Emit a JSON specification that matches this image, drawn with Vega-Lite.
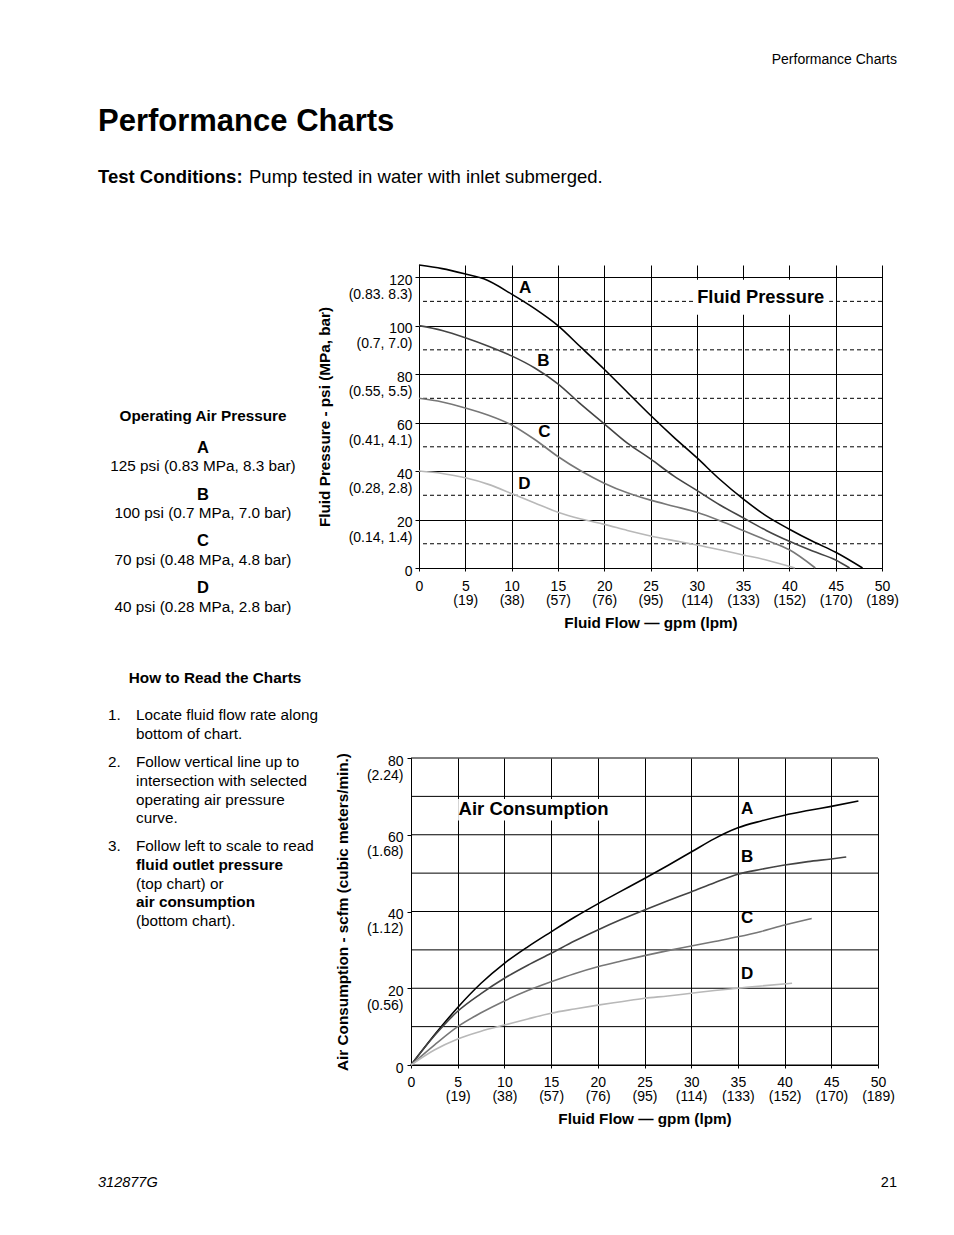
{
  "$schema": "https://vega.github.io/schema/vega-lite/v6.json",
  "background": "white",
  "padding": 0,
  "columns": 2,
  "spacing": {"row": 0, "column": 13},
  "align": "each",
  "bounds": "flush",
  "config": {
    "view": {"stroke": null},
    "font": "Liberation Sans",
    "text": {"font": "Liberation Sans", "color": "black"},
    "axis": {
      "labelFont": "Liberation Sans", "labelFontSize": 14, "labelColor": "black",
      "titleFont": "Liberation Sans", "titleFontSize": 15.3, "titleFontWeight": "bold", "titleColor": "black",
      "domainColor": "black", "domainWidth": 1, "tickColor": "black", "tickWidth": 1,
      "gridColor": "black", "gridOpacity": 1, "gridWidth": 1
    }
  },
  "concat": [
    {
      "width": 406, "height": 265,
      "data": {"values": [
        {"line": 0, "col": "right", "kind": "running", "text": "Performance Charts"},
        {"line": 1, "col": "left", "kind": "title", "text": "Performance Charts"},
        {"line": 2, "col": "left", "kind": "lead", "text": "Test Conditions:"},
        {"line": 2, "col": "left", "kind": "body", "text": "Pump tested in water with inlet submerged."}
      ]},
      "encoding": {
        "x": {"field": "col", "type": "nominal", "scale": {"type": "point", "domain": ["left", "right"], "range": [98, 897], "padding": 0}, "axis": null},
        "y": {"field": "line", "type": "quantitative", "scale": {"domain": [0, 1, 2], "range": [60, 122, 177], "nice": false, "zero": false}, "axis": null},
        "text": {"field": "text"}
      },
      "layer": [
        {"transform": [{"filter": "datum.kind == 'running'"}], "mark": {"type": "text", "align": "right", "baseline": "middle", "fontSize": 14}},
        {"transform": [{"filter": "datum.kind == 'title'"}], "mark": {"type": "text", "align": "left", "baseline": "middle", "fontSize": 31, "fontWeight": "bold"}},
        {"transform": [{"filter": "datum.kind == 'lead'"}], "mark": {"type": "text", "align": "left", "baseline": "middle", "fontSize": 18.5, "fontWeight": "bold"}},
        {"transform": [{"filter": "datum.kind == 'body'"}], "mark": {"type": "text", "align": "left", "baseline": "middle", "fontSize": 18.5, "dx": 151}}
      ]
    },
    {
      "width": 10, "height": 265,
      "data": {"values": []},
      "mark": {"type": "text"},
      "encoding": {}
    },
    {
      "width": 406, "height": 303,
      "data": {"values": [
        {"line": 0, "kind": "heading", "text": "Operating Air Pressure"},
        {"line": 1.7, "kind": "letter", "text": "A"},
        {"line": 2.7, "kind": "body", "text": "125 psi (0.83 MPa, 8.3 bar)"},
        {"line": 4.2, "kind": "letter", "text": "B"},
        {"line": 5.2, "kind": "body", "text": "100 psi (0.7 MPa, 7.0 bar)"},
        {"line": 6.7, "kind": "letter", "text": "C"},
        {"line": 7.7, "kind": "body", "text": "70 psi (0.48 MPa, 4.8 bar)"},
        {"line": 9.2, "kind": "letter", "text": "D"},
        {"line": 10.2, "kind": "body", "text": "40 psi (0.28 MPa, 2.8 bar)"}
      ]},
      "encoding": {
        "y": {"field": "line", "type": "quantitative", "scale": {"domain": [0, 10], "range": [151, 338], "nice": false, "zero": false}, "axis": null},
        "text": {"field": "text"}
      },
      "layer": [
        {"transform": [{"filter": "datum.kind == 'heading'"}], "mark": {"type": "text", "align": "center", "baseline": "middle", "fontSize": 15.3, "fontWeight": "bold"}},
        {"transform": [{"filter": "datum.kind == 'letter'"}], "mark": {"type": "text", "align": "center", "baseline": "middle", "fontSize": 16.5, "fontWeight": "bold"}},
        {"transform": [{"filter": "datum.kind == 'body'"}], "mark": {"type": "text", "align": "center", "baseline": "middle", "fontSize": 15.3}}
      ]
    },
    {
      "width": 463, "height": 303,
      "layer": [
        {
          "data": {"values": [{"psi": 10}, {"psi": 30}, {"psi": 50}, {"psi": 70}, {"psi": 90}, {"psi": 110}]},
          "mark": {"type": "rule", "color": "black", "strokeWidth": 1, "strokeDash": [4, 3]},
          "encoding": {
            "y": {"field": "psi", "type": "quantitative", "scale": {"domain": [0, 125], "nice": false}}
          }
        },
        {
          "data": {"values": [{"label": "Fluid Pressure", "flow": 36.9, "psi": 111.3, "left": 29.85, "right": 44.3, "bottom": 104.5, "top": 118.9}]},
          "layer": [
            {
              "mark": {"type": "rect", "fill": "white"},
              "encoding": {
                "x": {"field": "left", "type": "quantitative", "scale": {"domain": [0, 50], "nice": false}},
                "x2": {"field": "right"},
                "y": {"field": "bottom", "type": "quantitative", "scale": {"domain": [0, 125], "nice": false}},
                "y2": {"field": "top"}
              }
            },
            {
              "mark": {"type": "text", "align": "center", "baseline": "middle", "fontSize": 18.3, "fontWeight": "bold"},
              "encoding": {
                "x": {"field": "flow", "type": "quantitative", "scale": {"domain": [0, 50], "nice": false}},
                "y": {"field": "psi", "type": "quantitative", "scale": {"domain": [0, 125], "nice": false}},
                "text": {"field": "label"}
              }
            }
          ]
        },
        {
          "data": {"values": [
            {"curve": "A", "flow": 0, "psi": 125}, {"curve": "A", "flow": 2.5, "psi": 123.5}, {"curve": "A", "flow": 5, "psi": 121.3},
            {"curve": "A", "flow": 7, "psi": 119.3}, {"curve": "A", "flow": 10, "psi": 113}, {"curve": "A", "flow": 12.5, "psi": 107},
            {"curve": "A", "flow": 15, "psi": 100}, {"curve": "A", "flow": 17.5, "psi": 91}, {"curve": "A", "flow": 20, "psi": 82},
            {"curve": "A", "flow": 22.5, "psi": 72.5}, {"curve": "A", "flow": 25, "psi": 63}, {"curve": "A", "flow": 27.5, "psi": 54},
            {"curve": "A", "flow": 30, "psi": 45.5}, {"curve": "A", "flow": 32.5, "psi": 36.5}, {"curve": "A", "flow": 35, "psi": 28.5},
            {"curve": "A", "flow": 37.5, "psi": 21.5}, {"curve": "A", "flow": 40, "psi": 16}, {"curve": "A", "flow": 42.5, "psi": 11},
            {"curve": "A", "flow": 45, "psi": 6.5}, {"curve": "A", "flow": 47.9, "psi": 0},
            {"curve": "B", "flow": 0, "psi": 100}, {"curve": "B", "flow": 2.5, "psi": 98}, {"curve": "B", "flow": 5, "psi": 95},
            {"curve": "B", "flow": 7.5, "psi": 91.5}, {"curve": "B", "flow": 10, "psi": 87.5}, {"curve": "B", "flow": 12.5, "psi": 82.5},
            {"curve": "B", "flow": 15, "psi": 76}, {"curve": "B", "flow": 17.5, "psi": 67.5}, {"curve": "B", "flow": 20, "psi": 59.5},
            {"curve": "B", "flow": 22.5, "psi": 51.5}, {"curve": "B", "flow": 25, "psi": 45}, {"curve": "B", "flow": 27.5, "psi": 38},
            {"curve": "B", "flow": 30, "psi": 32}, {"curve": "B", "flow": 32.5, "psi": 26}, {"curve": "B", "flow": 35, "psi": 20.7},
            {"curve": "B", "flow": 37.5, "psi": 15.5}, {"curve": "B", "flow": 40, "psi": 11}, {"curve": "B", "flow": 42.5, "psi": 7},
            {"curve": "B", "flow": 45, "psi": 3.3}, {"curve": "B", "flow": 46.5, "psi": 0},
            {"curve": "C", "flow": 0, "psi": 70}, {"curve": "C", "flow": 2.5, "psi": 68.5}, {"curve": "C", "flow": 5, "psi": 66},
            {"curve": "C", "flow": 7.5, "psi": 63}, {"curve": "C", "flow": 10, "psi": 59}, {"curve": "C", "flow": 12.5, "psi": 53},
            {"curve": "C", "flow": 15, "psi": 46}, {"curve": "C", "flow": 17.5, "psi": 40}, {"curve": "C", "flow": 20, "psi": 35},
            {"curve": "C", "flow": 22.5, "psi": 31}, {"curve": "C", "flow": 25, "psi": 28}, {"curve": "C", "flow": 27.5, "psi": 25.5},
            {"curve": "C", "flow": 30, "psi": 23}, {"curve": "C", "flow": 32.5, "psi": 19.5}, {"curve": "C", "flow": 35, "psi": 15.5},
            {"curve": "C", "flow": 37.5, "psi": 11.5}, {"curve": "C", "flow": 40, "psi": 7.5}, {"curve": "C", "flow": 42.8, "psi": 0},
            {"curve": "D", "flow": 0, "psi": 40}, {"curve": "D", "flow": 2.5, "psi": 39}, {"curve": "D", "flow": 5, "psi": 37.2},
            {"curve": "D", "flow": 7.5, "psi": 34.5}, {"curve": "D", "flow": 10, "psi": 30.7}, {"curve": "D", "flow": 12.5, "psi": 26.8},
            {"curve": "D", "flow": 15, "psi": 23}, {"curve": "D", "flow": 17.5, "psi": 20.2}, {"curve": "D", "flow": 20, "psi": 18},
            {"curve": "D", "flow": 22.5, "psi": 15.5}, {"curve": "D", "flow": 25, "psi": 13.2}, {"curve": "D", "flow": 27.5, "psi": 11.3},
            {"curve": "D", "flow": 30, "psi": 9.5}, {"curve": "D", "flow": 32.5, "psi": 7.5}, {"curve": "D", "flow": 35, "psi": 5.4},
            {"curve": "D", "flow": 37.5, "psi": 3.3}, {"curve": "D", "flow": 40.6, "psi": 0}
          ]},
          "mark": {"type": "line", "interpolate": "monotone", "strokeWidth": 1.6},
          "encoding": {
            "x": {
              "field": "flow", "type": "quantitative", "scale": {"domain": [0, 50], "nice": false},
              "axis": {
                "values": [0, 5, 10, 15, 20, 25, 30, 35, 40, 45, 50],
                "title": "Fluid Flow — gpm (lpm)", "grid": true, "tickSize": 3,
                "labelPadding": 8, "labelLineHeight": 14, "labelFlush": false, "labelOverlap": false,
                "labelExpr": "datum.value == 0 ? '0' : [datum.label, ['', '(19)', '(38)', '(57)', '(76)', '(95)', '(114)', '(133)', '(152)', '(170)', '(189)'][datum.value / 5]]",
                "titleY": 54, "titleBaseline": "middle"
              }
            },
            "y": {
              "field": "psi", "type": "quantitative", "scale": {"domain": [0, 125], "nice": false},
              "axis": {
                "values": [0, 20, 40, 60, 80, 100, 120],
                "title": "Fluid Pressure - psi (MPa, bar)", "grid": true, "tickSize": 4,
                "labelPadding": 3, "labelBaseline": "top", "labelOffset": -4, "labelFontSize": 14, "labelLineHeight": 14.5, "labelOverlap": false,
                "labelExpr": "datum.value == 0 ? '0' : [datum.label, ['', '(0.14, 1.4)', '(0.28, 2.8)', '(0.41, 4.1)', '(0.55, 5.5)', '(0.7, 7.0)', '(0.83. 8.3)'][datum.value / 20]]",
                "titleX": -95, "titleBaseline": "middle"
              }
            },
            "color": {"field": "curve", "type": "nominal", "scale": {"domain": ["A", "B", "C", "D"], "range": ["#000000", "#444444", "#777777", "#b8b8b8"]}, "legend": null}
          }
        },
        {
          "data": {"values": [
            {"curve": "A", "flow": 11.45, "psi": 115.7},
            {"curve": "B", "flow": 13.42, "psi": 85.5},
            {"curve": "C", "flow": 13.53, "psi": 56.3},
            {"curve": "D", "flow": 11.37, "psi": 34.6}
          ]},
          "mark": {"type": "text", "align": "center", "baseline": "middle", "fontSize": 17, "fontWeight": "bold"},
          "encoding": {
            "x": {"field": "flow", "type": "quantitative", "scale": {"domain": [0, 50], "nice": false}},
            "y": {"field": "psi", "type": "quantitative", "scale": {"domain": [0, 125], "nice": false}},
            "text": {"field": "curve"}
          }
        }
      ]
    },
    {
      "width": 406, "height": 190,
      "data": {"values": []},
      "mark": {"type": "text"},
      "encoding": {}
    },
    {
      "width": 10, "height": 190,
      "data": {"values": []},
      "mark": {"type": "text"},
      "encoding": {}
    },
    {
      "width": 406, "height": 407,
      "data": {"values": [
        {"line": 0, "kind": "heading", "text": "How to Read the Charts"},
        {"line": 2, "kind": "num", "col": "num", "text": "1."},
        {"line": 2, "kind": "body", "col": "text", "text": "Locate fluid flow rate along"},
        {"line": 3, "kind": "body", "col": "text", "text": "bottom of chart."},
        {"line": 4.5, "kind": "num", "col": "num", "text": "2."},
        {"line": 4.5, "kind": "body", "col": "text", "text": "Follow vertical line up to"},
        {"line": 5.5, "kind": "body", "col": "text", "text": "intersection with selected"},
        {"line": 6.5, "kind": "body", "col": "text", "text": "operating air pressure"},
        {"line": 7.5, "kind": "body", "col": "text", "text": "curve."},
        {"line": 9, "kind": "num", "col": "num", "text": "3."},
        {"line": 9, "kind": "body", "col": "text", "text": "Follow left to scale to read"},
        {"line": 10, "kind": "strong", "col": "text", "text": "fluid outlet pressure"},
        {"line": 11, "kind": "body", "col": "text", "text": "(top chart) or"},
        {"line": 12, "kind": "strong", "col": "text", "text": "air consumption"},
        {"line": 13, "kind": "body", "col": "text", "text": "(bottom chart)."}
      ]},
      "encoding": {
        "y": {"field": "line", "type": "quantitative", "scale": {"domain": [0, 13], "range": [-80, 163.1], "nice": false, "zero": false}, "axis": null},
        "text": {"field": "text"}
      },
      "layer": [
        {"transform": [{"filter": "datum.kind == 'heading'"}], "mark": {"type": "text", "align": "center", "baseline": "middle", "fontSize": 15.3, "fontWeight": "bold", "dx": 12}},
        {
          "transform": [{"filter": "datum.kind == 'num' || datum.kind == 'body'"}],
          "mark": {"type": "text", "align": "left", "baseline": "middle", "fontSize": 15.3},
          "encoding": {"x": {"field": "col", "type": "nominal", "scale": {"type": "point", "domain": ["num", "text"], "range": [108, 136], "padding": 0}, "axis": null}}
        },
        {
          "transform": [{"filter": "datum.kind == 'strong'"}],
          "mark": {"type": "text", "align": "left", "baseline": "middle", "fontSize": 15.3, "fontWeight": "bold"},
          "encoding": {"x": {"field": "col", "type": "nominal", "scale": {"type": "point", "domain": ["num", "text"], "range": [108, 136], "padding": 0}, "axis": null}}
        }
      ]
    },
    {
      "width": 459, "height": 307,
      "layer": [
        {
          "data": {"values": [{"scfm": 0}, {"scfm": 10}, {"scfm": 20}, {"scfm": 30}, {"scfm": 40}, {"scfm": 50}, {"scfm": 60}, {"scfm": 70}, {"scfm": 80}]},
          "mark": {"type": "rule", "color": "black", "strokeWidth": 1},
          "encoding": {
            "x": {"datum": 0, "type": "quantitative", "scale": {"domain": [0, 50], "range": [-8, 459], "nice": false}},
            "x2": {"datum": 50},
            "y": {"field": "scfm", "type": "quantitative", "scale": {"domain": [0, 80], "nice": false}}
          }
        },
        {
          "data": {"values": [{"label": "Air Consumption", "flow": 13.13, "scfm": 66.6, "left": 5.05, "right": 21.3, "bottom": 63.7, "top": 69.3}]},
          "layer": [
            {
              "mark": {"type": "rect", "fill": "white"},
              "encoding": {
                "x": {"field": "left", "type": "quantitative", "scale": {"domain": [0, 50], "range": [-8, 459], "nice": false}},
                "x2": {"field": "right"},
                "y": {"field": "bottom", "type": "quantitative", "scale": {"domain": [0, 80], "nice": false}},
                "y2": {"field": "top"}
              }
            },
            {
              "mark": {"type": "text", "align": "center", "baseline": "middle", "fontSize": 18.5, "fontWeight": "bold"},
              "encoding": {
                "x": {"field": "flow", "type": "quantitative", "scale": {"domain": [0, 50], "range": [-8, 459], "nice": false}},
                "y": {"field": "scfm", "type": "quantitative", "scale": {"domain": [0, 80], "nice": false}},
                "text": {"field": "label"}
              }
            }
          ]
        },
        {
          "data": {"values": [
            {"curve": "A", "flow": 0, "scfm": 0}, {"curve": "A", "flow": 2.5, "scfm": 7.8}, {"curve": "A", "flow": 5, "scfm": 15},
            {"curve": "A", "flow": 7.5, "scfm": 21.3}, {"curve": "A", "flow": 10, "scfm": 26.5}, {"curve": "A", "flow": 12.5, "scfm": 30.8},
            {"curve": "A", "flow": 15, "scfm": 34.7}, {"curve": "A", "flow": 17.5, "scfm": 38.5}, {"curve": "A", "flow": 20, "scfm": 42},
            {"curve": "A", "flow": 22.5, "scfm": 45.3}, {"curve": "A", "flow": 25, "scfm": 48.6}, {"curve": "A", "flow": 27.5, "scfm": 52},
            {"curve": "A", "flow": 30, "scfm": 55.5}, {"curve": "A", "flow": 32.5, "scfm": 59}, {"curve": "A", "flow": 35, "scfm": 61.8},
            {"curve": "A", "flow": 37.5, "scfm": 63.6}, {"curve": "A", "flow": 40, "scfm": 65.1}, {"curve": "A", "flow": 42.5, "scfm": 66.3},
            {"curve": "A", "flow": 45, "scfm": 67.4}, {"curve": "A", "flow": 47.9, "scfm": 68.8},
            {"curve": "B", "flow": 0, "scfm": 0}, {"curve": "B", "flow": 2.5, "scfm": 7.6}, {"curve": "B", "flow": 5, "scfm": 14},
            {"curve": "B", "flow": 7.5, "scfm": 18.6}, {"curve": "B", "flow": 10, "scfm": 22.6}, {"curve": "B", "flow": 12.5, "scfm": 26},
            {"curve": "B", "flow": 15, "scfm": 29.1}, {"curve": "B", "flow": 17.5, "scfm": 32.3}, {"curve": "B", "flow": 20, "scfm": 35.2},
            {"curve": "B", "flow": 22.5, "scfm": 37.9}, {"curve": "B", "flow": 25, "scfm": 40.4}, {"curve": "B", "flow": 27.5, "scfm": 42.8},
            {"curve": "B", "flow": 30, "scfm": 45.1}, {"curve": "B", "flow": 32.5, "scfm": 47.5}, {"curve": "B", "flow": 35, "scfm": 49.7},
            {"curve": "B", "flow": 37.5, "scfm": 51}, {"curve": "B", "flow": 40, "scfm": 52.1}, {"curve": "B", "flow": 42.5, "scfm": 53},
            {"curve": "B", "flow": 45, "scfm": 53.7}, {"curve": "B", "flow": 46.6, "scfm": 54.2},
            {"curve": "C", "flow": 0, "scfm": 0}, {"curve": "C", "flow": 2.5, "scfm": 5.2}, {"curve": "C", "flow": 5, "scfm": 10},
            {"curve": "C", "flow": 7.5, "scfm": 13.6}, {"curve": "C", "flow": 10, "scfm": 16.7}, {"curve": "C", "flow": 12.5, "scfm": 19.4},
            {"curve": "C", "flow": 15, "scfm": 21.7}, {"curve": "C", "flow": 17.5, "scfm": 23.8}, {"curve": "C", "flow": 20, "scfm": 25.6},
            {"curve": "C", "flow": 22.5, "scfm": 27.1}, {"curve": "C", "flow": 25, "scfm": 28.5}, {"curve": "C", "flow": 27.5, "scfm": 29.8},
            {"curve": "C", "flow": 30, "scfm": 31}, {"curve": "C", "flow": 32.5, "scfm": 32.2}, {"curve": "C", "flow": 35, "scfm": 33.4},
            {"curve": "C", "flow": 37.5, "scfm": 34.8}, {"curve": "C", "flow": 40, "scfm": 36.5}, {"curve": "C", "flow": 42.9, "scfm": 38.2},
            {"curve": "D", "flow": 0, "scfm": 0}, {"curve": "D", "flow": 2.5, "scfm": 3.9}, {"curve": "D", "flow": 5, "scfm": 6.8},
            {"curve": "D", "flow": 7.5, "scfm": 8.8}, {"curve": "D", "flow": 10, "scfm": 10.4}, {"curve": "D", "flow": 12.5, "scfm": 12},
            {"curve": "D", "flow": 15, "scfm": 13.5}, {"curve": "D", "flow": 17.5, "scfm": 14.6}, {"curve": "D", "flow": 20, "scfm": 15.6},
            {"curve": "D", "flow": 22.5, "scfm": 16.5}, {"curve": "D", "flow": 25, "scfm": 17.4}, {"curve": "D", "flow": 27.5, "scfm": 18},
            {"curve": "D", "flow": 30, "scfm": 18.7}, {"curve": "D", "flow": 32.5, "scfm": 19.4}, {"curve": "D", "flow": 35, "scfm": 20},
            {"curve": "D", "flow": 37.5, "scfm": 20.6}, {"curve": "D", "flow": 40.8, "scfm": 21.3}
          ]},
          "mark": {"type": "line", "interpolate": "monotone", "strokeWidth": 1.6},
          "encoding": {
            "x": {
              "field": "flow", "type": "quantitative", "scale": {"domain": [0, 50], "range": [-8, 459], "nice": false},
              "axis": {
                "values": [0, 5, 10, 15, 20, 25, 30, 35, 40, 45, 50],
                "title": "Fluid Flow — gpm (lpm)", "grid": true, "tickSize": 3,
                "labelPadding": 7, "labelLineHeight": 14, "labelFlush": false, "labelOverlap": false,
                "labelExpr": "datum.value == 0 ? '0' : [datum.label, ['', '(19)', '(38)', '(57)', '(76)', '(95)', '(114)', '(133)', '(152)', '(170)', '(189)'][datum.value / 5]]",
                "titleY": 53, "titleBaseline": "middle"
              }
            },
            "y": {
              "field": "scfm", "type": "quantitative", "scale": {"domain": [0, 80], "nice": false},
              "axis": {
                "values": [0, 10, 20, 30, 40, 50, 60, 70, 80],
                "title": "Air Consumption - scfm (cubic meters/min.)", "grid": false, "tickSize": 4, "offset": 8,
                "labelPadding": 4, "labelBaseline": "top", "labelOffset": -4, "labelFontSize": 14, "labelLineHeight": 14, "labelOverlap": false,
                "labelExpr": "datum.value % 20 != 0 ? '' : datum.value == 0 ? '0' : [datum.label, ['', '(0.56)', '(1.12)', '(1.68)', '(2.24)'][datum.value / 20]]",
                "titleX": -69, "titleBaseline": "middle"
              }
            },
            "color": {"field": "curve", "type": "nominal", "scale": {"domain": ["A", "B", "C", "D"], "range": ["#000000", "#444444", "#777777", "#b8b8b8"]}, "legend": null}
          }
        },
        {
          "data": {"values": [
            {"curve": "A", "flow": 36.0, "scfm": 66.8},
            {"curve": "B", "flow": 36.0, "scfm": 54.2},
            {"curve": "C", "flow": 36.0, "scfm": 38.3},
            {"curve": "D", "flow": 36.0, "scfm": 23.6}
          ]},
          "mark": {"type": "text", "align": "center", "baseline": "middle", "fontSize": 17, "fontWeight": "bold"},
          "encoding": {
            "x": {"field": "flow", "type": "quantitative", "scale": {"domain": [0, 50], "range": [-8, 459], "nice": false}},
            "y": {"field": "scfm", "type": "quantitative", "scale": {"domain": [0, 80], "nice": false}},
            "text": {"field": "curve"}
          }
        }
      ]
    },
    {
      "width": 406, "height": 36,
      "data": {"values": [
        {"col": "left", "kind": "doc", "text": "312877G"},
        {"col": "right", "kind": "page", "text": "21"}
      ]},
      "encoding": {
        "x": {"field": "col", "type": "nominal", "scale": {"type": "point", "domain": ["left", "right"], "range": [98, 897], "padding": 0}, "axis": null},
        "text": {"field": "text"}
      },
      "layer": [
        {"transform": [{"filter": "datum.kind == 'doc'"}], "mark": {"type": "text", "align": "left", "baseline": "middle", "fontSize": 14.5, "fontStyle": "italic"}},
        {"transform": [{"filter": "datum.kind == 'page'"}], "mark": {"type": "text", "align": "right", "baseline": "middle", "fontSize": 14.5}}
      ]
    },
    {
      "width": 10, "height": 36,
      "data": {"values": []},
      "mark": {"type": "text"},
      "encoding": {}
    }
  ]
}
